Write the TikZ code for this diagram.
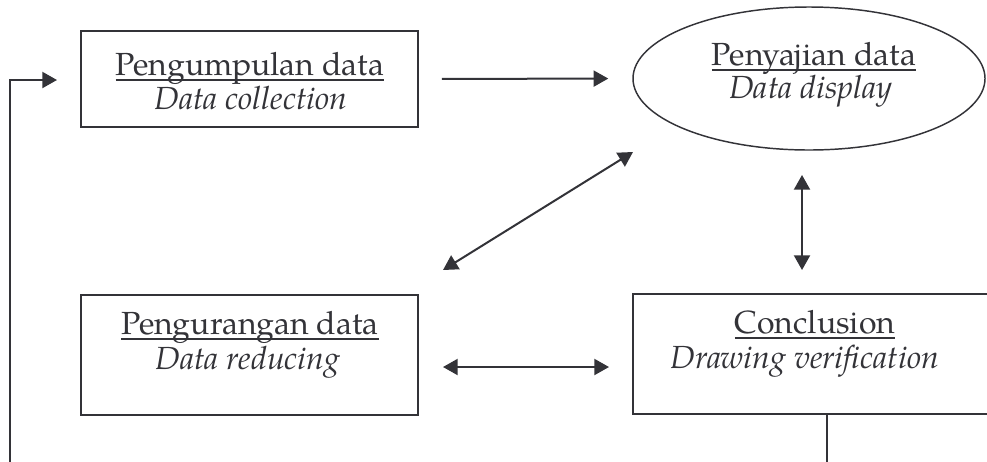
\documentclass[tikz,border=0pt]{standalone}
\usepackage{fontspec}
\setmainfont{TeX Gyre Pagella}
\usetikzlibrary{arrows.meta,shapes.geometric}
\definecolor{ink}{RGB}{51,51,56}
\newcommand\myul[1]{\setbox0\hbox{#1}\rlap{\rule[-0.2em]{\wd0}{0.06em}}\box0}
\begin{document}
\begin{tikzpicture}[x=0.75pt,y=-0.75pt,
  shapebox/.style={draw=ink,line width=1.4pt,rectangle,inner sep=0pt},
  ovalbox/.style={draw=ink,line width=1.1pt,ellipse,inner sep=0pt},
  txt/.style={anchor=base,inner sep=0pt,text=ink,font=\fontsize{24}{28}\selectfont},
  itxt/.style={anchor=base,inner sep=0pt,text=ink,font=\fontsize{24}{28}\selectfont\itshape},
  arr/.style={draw=ink,line width=1.5pt,-{Triangle[length=11pt,width=12pt]}},
  darr/.style={draw=ink,line width=1.5pt,{Triangle[length=11pt,width=12pt]}-{Triangle[length=11pt,width=12pt]}}]
\useasboundingbox (0,0) rectangle (987,461);
\clip (0,0) rectangle (987,461);
% shapes
\node[shapebox,minimum width=252.75pt,minimum height=72pt] (b1) at (249.5,79) {};
\node[ovalbox,minimum width=264pt,minimum height=107.25pt] (ell) at (809,78.5) {};
\node[shapebox,minimum width=252.75pt,minimum height=90pt] (b2) at (249.5,355) {};
\node[shapebox,minimum width=275.25pt,minimum height=90pt] (b3) at (816.5,354) {};
% texts
\node[txt] (t1a) at (250,75) {\myul{Pengumpulan data}};
\node[itxt] (t1b) at (251,109) {Data collection};
\node[txt] (t2a) at (814,65) {\myul{Penyajian data}};
\node[itxt] (t2b) at (811,98) {Data display};
\node[txt] (t3a) at (250,334) {\myul{Pengurangan data}};
\node[itxt] (t3b) at (248,369) {Data reducing};
\node[txt] (t4a) at (815,333) {\myul{Conclusion}};
\node[itxt] (t4b) at (805,368) {Drawing verification};
% connector end points
\coordinate (d1) at (443,270);
\coordinate (d2) at (633,152);
\coordinate (v1) at (802,175);
\coordinate (v2) at (802,270);
\coordinate (h1) at (443,367);
\coordinate (h2) at (609,367);
\coordinate (l0) at (827,414);
\coordinate (l1) at (827,475);
\coordinate (l2) at (10,475);
\coordinate (l3) at (57,80);
% connectors
\draw[arr,shorten <=17.25pt,shorten >=18pt] (b1.east) -- (ell.west);
\draw[darr] (d1) -- (d2);
\draw[darr] (v1) -- (v2);
\draw[darr] (h1) -- (h2);
\draw[arr] (l0) -- (l1) -- (l2) |- (l3);
\end{tikzpicture}
\end{document}
